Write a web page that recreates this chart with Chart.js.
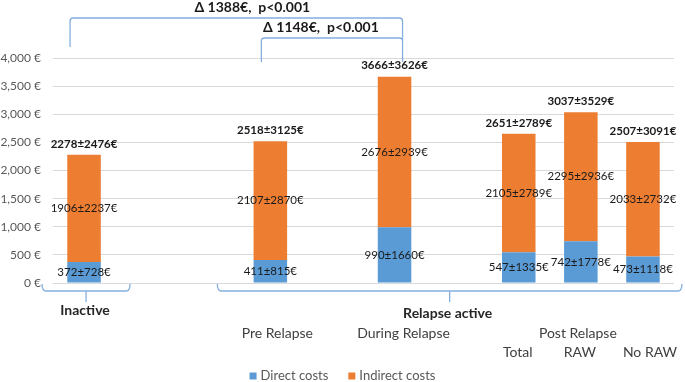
<!DOCTYPE html>
<html>
<head>
<meta charset="utf-8">
<script src="https://cdn.jsdelivr.net/npm/chart.js@4/dist/chart.umd.min.js"></script>
<style>
  html, body { margin: 0; padding: 0; background: #fff; }
  #wrap { width: 685px; height: 382px; }
</style>
</head>
<body>
<div id="wrap"><canvas id="costes"></canvas></div>
<script>
// categorias (los huecos vacios separan los grupos, como en el original)
const categorias = ['Inactive', '', '', 'Pre Relapse', '', 'During Relapse', '', 'Total', 'RAW', 'No RAW'];
const costesDirectos   = [372, null, null, 411, null, 990, null, 547, 742, 473];
const costesIndirectos = [1906, null, null, 2107, null, 2676, null, 2105, 2295, 2033];
const costesTotales    = [2278, null, null, 2518, null, 3666, null, 2651, 3037, 2507];
const sdDirectos   = [728, null, null, 815, null, 1660, null, 1335, 1778, 1118];
const sdIndirectos = [2237, null, null, 2870, null, 2939, null, 2789, 2936, 2732];
const sdTotales    = [2476, null, null, 3125, null, 3626, null, 2789, 3529, 3091];
const nombresSeries = ['Direct costs', 'Indirect costs'];
const coloresSeries = ['#5b9bd5', '#ed7d31'];
const ejeY = { min: 0, max: 4000, paso: 500 };
const comparaciones = [
    { desde: 0, hasta: 5, texto: 'Δ 1388€,  p<0.001' },
    { desde: 3, hasta: 5, texto: 'Δ 1148€,  p<0.001' }
];

const fuente = 'Lato, "Open Sans", sans-serif';
const azulLlave = '#85aee0';

function llaveAbajo(ctx, x0, x1, y, yTop, yTick) {
    const xm = (x0 + x1) / 2;
    ctx.beginPath();
    ctx.moveTo(x0, yTop);
    ctx.quadraticCurveTo(x0, y, x0 + 4, y);
    ctx.lineTo(x1 - 4, y);
    ctx.quadraticCurveTo(x1, y, x1, yTop);
    ctx.moveTo(xm, y);
    ctx.lineTo(xm, yTick);
    ctx.stroke();
}

const etiquetas = {
    id: 'etiquetas',
    afterDatasetsDraw(chart) {
        const ctx = chart.ctx;
        ctx.save();
        ctx.textAlign = 'center';
        ctx.textBaseline = 'middle';
        ctx.fillStyle = '#1a1a1a';

        // etiquetas dentro de cada segmento
        const valores = [costesDirectos, costesIndirectos];
        const sds = [sdDirectos, sdIndirectos];
        ctx.font = '11.5px ' + fuente;
        for (let d = 0; d < 2; d++) {
            chart.getDatasetMeta(d).data.forEach((barra, i) => {
                if (valores[d][i] == null) return;
                ctx.fillText(valores[d][i] + '±' + sds[d][i] + '€', barra.x, (barra.y + barra.base) / 2);
            });
        }

        // totales encima
        ctx.font = 'bold 11.5px ' + fuente;
        chart.getDatasetMeta(1).data.forEach((barra, i) => {
            if (costesTotales[i] == null) return;
            ctx.fillText(costesTotales[i] + '±' + sdTotales[i] + '€', barra.x, barra.y - 11);
        });
        ctx.restore();
    },
    afterDraw(chart) {
        const ctx = chart.ctx;
        const area = chart.chartArea;
        const x = chart.scales.x;
        const px = i => x.getPixelForValue(i);
        ctx.save();
        ctx.strokeStyle = azulLlave;
        ctx.lineWidth = 1.3;

        // llaves de comparacion arriba
        const top = area.top;
        const xIn = px(comparaciones[0].desde) - 14;
        const xPre = px(comparaciones[1].desde) - 9;
        const xDur = px(comparaciones[0].hasta) + 8;
        ctx.beginPath();
        ctx.moveTo(xIn, top - 11);
        ctx.lineTo(xIn, top - 37);
        ctx.quadraticCurveTo(xIn, top - 40, xIn + 3, top - 40);
        ctx.lineTo(xDur - 3, top - 40);
        ctx.quadraticCurveTo(xDur, top - 40, xDur, top - 37);
        ctx.lineTo(xDur, top + 4);
        ctx.moveTo(xPre, top + 4);
        ctx.lineTo(xPre, top - 17);
        ctx.quadraticCurveTo(xPre, top - 20, xPre + 3, top - 20);
        ctx.lineTo(xDur - 3, top - 20);
        ctx.quadraticCurveTo(xDur, top - 20, xDur, top - 17);
        ctx.stroke();

        ctx.fillStyle = '#1a1a1a';
        ctx.textAlign = 'center';
        ctx.textBaseline = 'middle';
        ctx.font = 'bold 14px ' + fuente;
        ctx.fillText(comparaciones[0].texto, (xIn + xDur) / 2 + 16, top - 51);
        ctx.fillText(comparaciones[1].texto, (xPre + xDur) / 2 - 11, top - 31);

        // llaves de grupos abajo
        const yb = area.bottom + 8;
        llaveAbajo(ctx, px(0) - 42, px(0) + 46, yb, area.bottom + 1, area.bottom + 19);
        llaveAbajo(ctx, px(3) - 53, px(9) + 39, yb, area.bottom + 1, area.bottom + 19);

        // textos de categorias
        ctx.fillStyle = '#262626';
        ctx.font = 'bold 14px ' + fuente;
        ctx.fillText('Inactive', px(0) + 1, area.bottom + 27);
        ctx.fillText('Relapse active', (px(3) - 53 + px(9) + 39) / 2 - 2, area.bottom + 30);
        ctx.font = '14px ' + fuente;
        ctx.fillStyle = '#404040';
        ctx.fillText(categorias[3], px(3) + 7, area.bottom + 50);
        ctx.fillText(categorias[5], px(5) + 9, area.bottom + 50);
        ctx.fillText('Post Relapse', px(8) - 3, area.bottom + 50);
        [7, 8, 9].forEach(i => ctx.fillText(categorias[i], px(i) + (i === 9 ? 7 : -1), area.bottom + 69));

        // leyenda
        ctx.font = '13px ' + fuente;
        ctx.textAlign = 'left';
        ctx.fillStyle = '#595959';
        const anchos = nombresSeries.map(n => ctx.measureText(n).width);
        const total = anchos[0] + anchos[1] + 2 * 11 + 20;
        let lx = chart.width / 2 - total / 2;
        const ly = 376;
        nombresSeries.forEach((n, k) => {
            ctx.fillStyle = coloresSeries[k];
            ctx.fillRect(lx, ly - 3.5, 7, 7);
            ctx.fillStyle = '#595959';
            ctx.fillText(n, lx + 11, ly);
            lx += 11 + anchos[k] + 20;
        });
        ctx.restore();
    }
};

new Chart(document.getElementById('costes'), {
    type: 'bar',
    data: {
        labels: categorias,
        datasets: nombresSeries.map((n, k) => ({
            label: n,
            data: k === 0 ? costesDirectos : costesIndirectos,
            backgroundColor: coloresSeries[k],
            borderWidth: 0,
            categoryPercentage: 1,
            barPercentage: 0.54
        }))
    },
    options: {
        responsive: true,
        maintainAspectRatio: false,
        animation: false,
        layout: { padding: { top: 58, right: 11, bottom: 99, left: 0 } },
        plugins: {
            legend: { display: false },
            tooltip: { enabled: false }
        },
        scales: {
            x: {
                stacked: true,
                display: false
            },
            y: {
                stacked: true,
                min: ejeY.min,
                max: ejeY.max,
                afterFit: s => { s.width = 53; },
                border: { display: false },
                grid: { color: '#d9d9d9', drawTicks: false },
                ticks: {
                    stepSize: ejeY.paso,
                    padding: 12,
                    color: '#595959',
                    font: { family: fuente, size: 12 },
                    callback: v => v.toLocaleString('en-US') + ' €'
                }
            }
        }
    },
    plugins: [etiquetas]
});
</script>
</body>
</html>
